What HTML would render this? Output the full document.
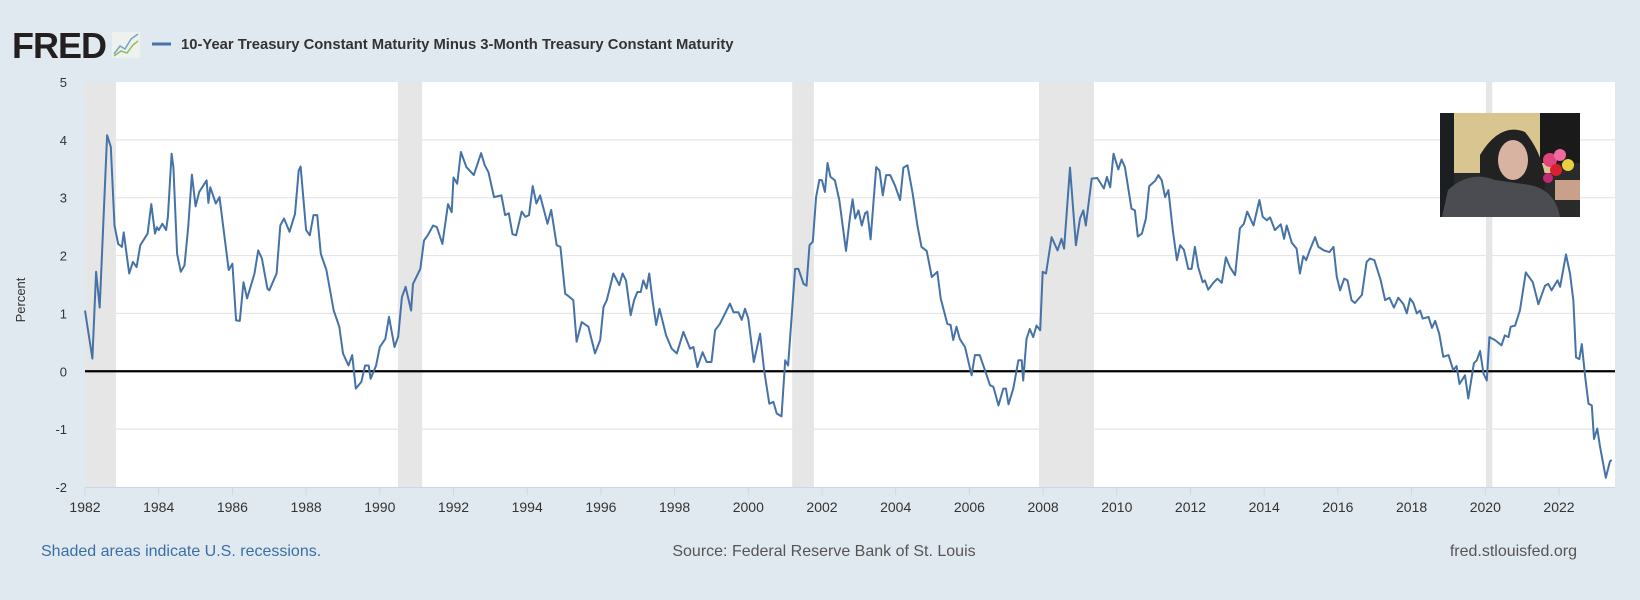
<!DOCTYPE html>
<html><head><meta charset="utf-8">
<style>
html,body{margin:0;padding:0;background:#e1e9f0;}
svg{display:block;font-family:"Liberation Sans",Arial,sans-serif;}
</style></head>
<body>
<svg id="chart" width="1640" height="600" viewBox="0 0 1640 600">
  <rect x="0" y="0" width="1640" height="600" fill="#e1e9f0"/>
  <g>
    <text x="12" y="58" font-size="36" font-weight="bold" fill="#231f20" letter-spacing="-1">FRED</text>
    <rect x="112" y="32" width="28" height="26" fill="#eef2ee"/>
    <polyline points="114,54 120,46 125,49 131,39 138,34" fill="none" stroke="#7aa0c8" stroke-width="1.5"/>
    <polyline points="114,56 121,51 127,53 133,45 138,41" fill="none" stroke="#8cbf5a" stroke-width="1.5"/>
  </g>
  <line x1="152" y1="44" x2="171" y2="44" stroke="#4572a7" stroke-width="3"/>
  <text x="181" y="49" font-size="14.8" font-weight="bold" fill="#333">10-Year Treasury Constant Maturity Minus 3-Month Treasury Constant Maturity</text>

  <rect x="85" y="82" width="1530" height="405" fill="#ffffff"/>
  <g id="recessions"></g>
  <g id="grid"></g>
  <g id="yticks"></g>
  <g id="xticks"></g>
  <line id="zero" stroke="#000" stroke-width="2.2"/>
  <path id="series" fill="none" stroke="#4572a7" stroke-width="2" stroke-linejoin="round"/>

  <text transform="translate(25,300) rotate(-90)" text-anchor="middle" font-size="13" fill="#333">Percent</text>

  <g>
    <rect x="1440" y="113" width="140" height="104" fill="#2a2a2a"/>
    <rect x="1452" y="113" width="100" height="60" fill="#d9c58f"/>
    <rect x="1440" y="113" width="14" height="104" fill="#1b1f22"/>
    <rect x="1540" y="113" width="40" height="50" fill="#1a1a1a"/>
    <path d="M1480,155 Q1500,122 1525,132 Q1540,150 1545,175 L1545,217 L1480,217 Z" fill="#222"/>
    <ellipse cx="1513" cy="160" rx="15" ry="20" fill="#d9b3a2"/>
    <path d="M1442,217 L1448,190 Q1470,170 1495,180 L1530,185 Q1555,190 1560,217 Z" fill="#4a4c52"/>
    <circle cx="1550" cy="160" r="7" fill="#e0447a"/>
    <circle cx="1560" cy="155" r="6" fill="#f06aa0"/>
    <circle cx="1568" cy="165" r="6" fill="#e8d040"/>
    <circle cx="1556" cy="170" r="6" fill="#d82030"/>
    <circle cx="1548" cy="178" r="5" fill="#c02878"/>
    <rect x="1555" y="180" width="25" height="20" fill="#c9a08a"/>
  </g>

  <text x="41" y="556" font-size="16" fill="#3a6ea5">Shaded areas indicate U.S. recessions.</text>
  <text x="824" y="556" text-anchor="middle" font-size="16" fill="#555">Source: Federal Reserve Bank of St. Louis</text>
  <text x="1577" y="556" text-anchor="end" font-size="16" fill="#555">fred.stlouisfed.org</text>
</svg>
<script>
const dates = [1982.0,1982.2,1982.3,1982.4,1982.6,1982.7,1982.8,1982.9,1983.0,1983.05,1983.2,1983.3,1983.4,1983.5,1983.7,1983.8,1983.9,1983.95,1984.0,1984.1,1984.2,1984.25,1984.35,1984.4,1984.5,1984.6,1984.7,1984.8,1984.9,1985.0,1985.1,1985.3,1985.35,1985.4,1985.55,1985.65,1985.9,1986.0,1986.1,1986.2,1986.3,1986.4,1986.6,1986.7,1986.8,1986.95,1987.0,1987.2,1987.3,1987.4,1987.55,1987.7,1987.8,1987.85,1988.0,1988.1,1988.2,1988.3,1988.4,1988.55,1988.75,1988.9,1989.0,1989.15,1989.25,1989.35,1989.5,1989.6,1989.7,1989.75,1989.9,1990.0,1990.15,1990.25,1990.4,1990.5,1990.6,1990.7,1990.85,1990.9,1991.1,1991.2,1991.3,1991.45,1991.55,1991.7,1991.85,1991.95,1992.0,1992.1,1992.2,1992.35,1992.55,1992.75,1992.85,1992.95,1993.1,1993.3,1993.4,1993.5,1993.6,1993.7,1993.85,1993.95,1994.05,1994.15,1994.25,1994.35,1994.55,1994.65,1994.8,
1994.9,1995.03,1995.1,1995.25,1995.34,1995.48,1995.66,1995.84,1995.98,1996.07,1996.16,1996.34,1996.5,1996.59,1996.68,1996.81,1996.9,1996.99,1997.08,1997.15,1997.24,1997.31,1997.4,1997.5,1997.59,1997.77,1997.92,1998.06,1998.24,1998.42,1998.51,1998.62,1998.76,1998.87,1999.0,1999.1,1999.23,1999.37,1999.5,1999.6,1999.73,1999.82,1999.91,2000.0,2000.15,2000.32,2000.43,2000.57,2000.68,2000.77,2000.9,2001.0,2001.08,2001.27,2001.36,2001.5,2001.58,2001.66,2001.75,2001.84,2001.93,2002.0,2002.08,2002.15,2002.23,2002.35,2002.47,2002.65,2002.76,2002.83,2002.9,2002.99,2003.08,2003.17,2003.23,2003.32,2003.47,2003.56,2003.65,2003.74,2003.85,2003.98,2004.12,2004.21,2004.32,2004.46,2004.59,2004.7,2004.84,2004.98,2005.13,2005.22,2005.4,2005.49,2005.56,2005.65,2005.74,2005.88,2006.06,2006.15,2006.28,2006.42,2006.56,2006.65,2006.79,2006.92,2006.99,2007.06,2007.19,2007.33,2007.42,2007.46,2007.55,2007.64,2007.73,2007.82,
2007.92,2007.99,2008.08,2008.23,2008.39,2008.5,2008.57,2008.73,2008.89,2009.0,2009.09,2009.16,2009.32,2009.47,2009.65,2009.73,2009.82,2009.91,2010.04,2010.13,2010.22,2010.4,2010.49,2010.57,2010.68,2010.79,2010.88,2011.04,2011.13,2011.22,2011.31,2011.4,2011.52,2011.63,2011.72,2011.82,2011.94,2012.03,2012.12,2012.21,2012.33,2012.39,2012.48,2012.62,2012.73,2012.85,2012.96,2013.07,2013.21,2013.34,2013.45,2013.54,2013.71,2013.87,2013.96,2014.07,2014.16,2014.29,2014.45,2014.54,2014.61,2014.75,2014.88,2014.97,2015.06,2015.14,2015.23,2015.38,2015.47,2015.62,2015.77,2015.88,2015.97,2016.06,2016.17,2016.26,2016.37,2016.46,2016.65,2016.78,2016.87,2016.99,2017.16,2017.28,2017.4,2017.52,2017.64,2017.78,2017.87,2017.96,2018.05,2018.14,2018.23,2018.3,2018.46,2018.55,2018.64,2018.75,2018.86,2019.0,2019.13,2019.22,2019.3,2019.45,2019.54,2019.69,2019.77,2019.86,2019.95,2020.04,2020.11,2020.26,2020.44,2020.53,2020.63,2020.69,2020.81,2020.94,
2021.1,2021.29,2021.44,2021.62,2021.71,2021.8,2021.96,2022.03,2022.19,2022.3,2022.39,2022.46,2022.55,2022.62,2022.71,2022.8,2022.89,2022.95,2023.04,2023.11,2023.27,2023.38,2023.43];
const spread = [1.05,0.22,1.72,1.1,4.08,3.88,2.52,2.2,2.15,2.4,1.69,1.89,1.8,2.18,2.38,2.89,2.38,2.49,2.44,2.55,2.44,2.67,3.76,3.53,2.03,1.72,1.83,2.49,3.4,2.85,3.1,3.3,2.91,3.18,2.9,3.01,1.75,1.86,0.88,0.87,1.54,1.26,1.69,2.09,1.95,1.43,1.4,1.69,2.52,2.64,2.41,2.72,3.47,3.54,2.44,2.35,2.7,2.7,2.03,1.75,1.05,0.77,0.31,0.1,0.28,-0.3,-0.18,0.1,0.1,-0.13,0.1,0.42,0.56,0.94,0.42,0.6,1.28,1.46,1.05,1.51,1.77,2.26,2.35,2.52,2.49,2.2,2.89,2.75,3.35,3.24,3.79,3.53,3.39,3.77,3.56,3.44,3.01,3.04,2.7,2.73,2.37,2.35,2.76,2.67,2.7,3.2,2.9,3.04,2.55,2.79,2.18,
2.15,1.34,1.31,1.23,0.51,0.85,0.77,0.31,0.54,1.11,1.23,1.69,1.49,1.69,1.57,0.97,1.23,1.37,1.37,1.57,1.43,1.69,1.23,0.8,1.08,0.62,0.39,0.31,0.68,0.39,0.42,0.07,0.33,0.16,0.16,0.71,0.82,1.0,1.17,1.02,1.02,0.89,1.08,0.91,0.16,0.65,0.02,-0.56,-0.53,-0.73,-0.78,0.19,0.1,1.77,1.77,1.51,1.48,2.18,2.24,3.01,3.31,3.3,3.1,3.6,3.36,3.3,2.96,2.08,2.67,2.97,2.64,2.78,2.52,2.73,2.76,2.28,3.53,3.47,3.04,3.39,3.39,3.21,2.96,3.52,3.56,3.07,2.52,2.15,2.08,1.63,1.72,1.26,0.82,0.8,0.54,0.77,0.56,0.42,-0.07,0.28,0.28,0.02,-0.24,-0.27,-0.59,-0.3,-0.3,-0.57,-0.3,0.19,0.19,-0.16,0.56,0.73,0.59,0.79,
0.71,1.72,1.69,2.32,2.09,2.29,2.12,3.52,2.18,2.64,2.78,2.52,3.33,3.34,3.16,3.36,3.18,3.76,3.49,3.66,3.53,2.81,2.78,2.33,2.38,2.64,3.2,3.29,3.39,3.3,3.01,3.13,2.44,1.92,2.18,2.1,1.77,1.77,2.15,1.8,1.54,1.57,1.41,1.53,1.6,1.53,1.97,1.8,1.66,2.47,2.55,2.76,2.52,2.96,2.67,2.61,2.66,2.44,2.54,2.29,2.52,2.22,2.12,1.69,1.99,1.92,2.08,2.32,2.15,2.09,2.06,2.15,1.63,1.4,1.6,1.57,1.23,1.18,1.32,1.89,1.95,1.92,1.58,1.23,1.27,1.1,1.27,1.16,1.0,1.26,1.18,1.0,1.05,0.91,0.94,0.75,0.87,0.65,0.25,0.28,0.02,0.09,-0.22,-0.07,-0.47,0.14,0.19,0.35,-0.04,-0.16,0.59,0.54,0.45,0.62,0.59,0.77,0.79,1.05,
1.71,1.54,1.16,1.48,1.51,1.4,1.57,1.46,2.02,1.68,1.22,0.24,0.21,0.47,-0.1,-0.56,-0.59,-1.17,-0.99,-1.29,-1.84,-1.56,-1.53];
const recessionStarts = [1981.5,1990.49,2001.19,2007.89,2020.02];
const recessionEnds = [1982.84,1991.15,2001.78,2009.38,2020.19];
const yTicks = [-2,-1,0,1,2,3,4,5];
const xTickLabels = ["1982","1984","1986","1988","1990","1992","1994","1996","1998","2000","2002","2004","2006","2008","2010","2012","2014","2016","2018","2020","2022"];

const X0 = 85, X1 = 1615, Y0 = 82, Y1 = 487;
const xMin = 1982, xMax = 1982 + (X1 - X0) / 36.85;
const yMin = -2, yMax = 5;
function xs(t){ return X0 + (t - xMin) / (xMax - xMin) * (X1 - X0); }
function ys(v){ return Y1 - (v - yMin) / (yMax - yMin) * (Y1 - Y0); }
const NS = "http://www.w3.org/2000/svg";

const rg = document.getElementById('recessions');
recessionStarts.forEach((s, i) => {
  const a = Math.max(xs(s), X0), b = Math.min(xs(recessionEnds[i]), X1);
  const r = document.createElementNS(NS, 'rect');
  r.setAttribute('x', a); r.setAttribute('y', Y0);
  r.setAttribute('width', b - a); r.setAttribute('height', Y1 - Y0);
  r.setAttribute('fill', '#e6e6e6');
  
  
  rg.appendChild(r);
});

const gg = document.getElementById('grid');
const yg = document.getElementById('yticks');
yTicks.forEach(v => {
  if (v !== yMin && v !== yMax && v !== 0) {
    const l = document.createElementNS(NS, 'line');
    l.setAttribute('x1', X0); l.setAttribute('x2', X1);
    l.setAttribute('y1', ys(v)); l.setAttribute('y2', ys(v));
    l.setAttribute('stroke', '#e6e6e6'); l.setAttribute('stroke-width', '1.2');
    
    
    gg.appendChild(l);
  }
  const t = document.createElementNS(NS, 'text');
  t.setAttribute('x', 67); t.setAttribute('y', ys(v) + 5);
  t.setAttribute('text-anchor', 'end'); t.setAttribute('font-size', '13'); t.setAttribute('fill', '#333');
  t.textContent = String(v);
  
  
  yg.appendChild(t);
});

const xg = document.getElementById('xticks');
const axis = document.createElementNS(NS, 'line');
axis.setAttribute('x1', X0); axis.setAttribute('x2', X1);
axis.setAttribute('y1', Y1 + 0.5); axis.setAttribute('y2', Y1 + 0.5);
axis.setAttribute('stroke', '#ccd6eb');


xg.appendChild(axis);
xTickLabels.forEach(lab => {
  const x = xs(parseFloat(lab));
  const tk = document.createElementNS(NS, 'line');
  tk.setAttribute('x1', x); tk.setAttribute('x2', x);
  tk.setAttribute('y1', Y1); tk.setAttribute('y2', Y1 + 8);
  tk.setAttribute('stroke', '#ccd6eb');
  
  
  xg.appendChild(tk);
  const t = document.createElementNS(NS, 'text');
  t.setAttribute('x', x); t.setAttribute('y', 512);
  t.setAttribute('text-anchor', 'middle'); t.setAttribute('font-size', '14'); t.setAttribute('fill', '#333');
  t.textContent = lab;
  
  
  xg.appendChild(t);
});

const z = document.getElementById('zero');
z.setAttribute('x1', X0); z.setAttribute('x2', X1);
z.setAttribute('y1', ys(0)); z.setAttribute('y2', ys(0));

let d = '';
dates.forEach((t, i) => { d += (i ? 'L' : 'M') + xs(t).toFixed(1) + ',' + ys(spread[i]).toFixed(1); });
document.getElementById('series').setAttribute('d', d);
</script>
</body></html>
